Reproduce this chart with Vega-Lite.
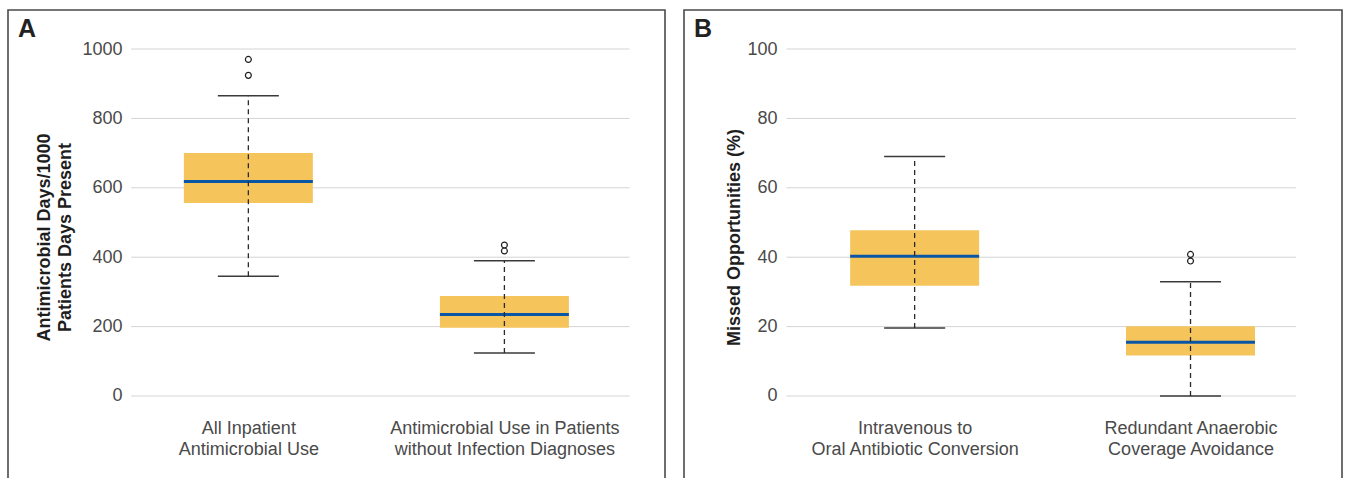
{
  "$schema": "https://vega.github.io/schema/vega-lite/v6.json",
  "padding": {"left": 7, "top": 9, "right": 0, "bottom": 0},
  "autosize": {"type": "pad"},
  "spacing": 17,
  "config": {
    "view": {"stroke": "#4a4a4a", "strokeWidth": 1.6},
    "font": "Liberation Sans",
    "axis": {"grid": false, "domain": false, "ticks": false, "labelFontSize": 18, "labelColor": "#4a4a4a", "labelFont": "Liberation Sans", "labelLimit": 0, "titleFont": "Liberation Sans", "titleFontSize": 18, "titleFontWeight": "bold", "titleColor": "#1e1e1e"},
    "title": {"font": "Liberation Sans", "fontSize": 25, "fontWeight": "bold", "color": "#222222", "anchor": "start", "frame": "group"},
    "tick": {"opacity": 1},
    "bar": {"opacity": 1}
  },
  "datasets": {
    "boxes": [
      {"panel": "A", "idx": 1, "lo": 345, "q1": 556, "med": 618, "q3": 700, "hi": 865},
      {"panel": "A", "idx": 2, "lo": 124, "q1": 197, "med": 235, "q3": 288, "hi": 390},
      {"panel": "B", "idx": 1, "lo": 19.6, "q1": 31.8, "med": 40.3, "q3": 47.8, "hi": 69.0},
      {"panel": "B", "idx": 2, "lo": 0, "q1": 11.7, "med": 15.5, "q3": 20.1, "hi": 32.9}
    ],
    "outliers": [
      {"panel": "A", "idx": 1, "v": 970},
      {"panel": "A", "idx": 1, "v": 924},
      {"panel": "A", "idx": 2, "v": 435},
      {"panel": "A", "idx": 2, "v": 418},
      {"panel": "B", "idx": 2, "v": 40.8},
      {"panel": "B", "idx": 2, "v": 38.9}
    ],
    "grid": [
      {"panel": "A", "v": 0}, {"panel": "A", "v": 200}, {"panel": "A", "v": 400}, {"panel": "A", "v": 600}, {"panel": "A", "v": 800}, {"panel": "A", "v": 1000},
      {"panel": "B", "v": 0}, {"panel": "B", "v": 20}, {"panel": "B", "v": 40}, {"panel": "B", "v": 60}, {"panel": "B", "v": 80}, {"panel": "B", "v": 100}
    ]
  },
  "hconcat": [
    {
      "width": 657,
      "height": 469,
      "title": {"text": "A", "offset": -32, "dx": 10},
      "layer": [
        {
          "data": {"name": "grid"},
          "transform": [{"filter": "datum.panel == 'A'"}],
          "mark": {"type": "rule", "color": "#d4d4d4", "strokeWidth": 1},
          "encoding": {
            "y": {"field": "v", "type": "quantitative",
              "scale": {"domain": [-239.2, 1112.4], "nice": false, "zero": false},
              "axis": {"values": [0, 200, 400, 600, 800, 1000], "format": "d", "offset": -120, "labelPadding": 6, "title": ["Antimicrobial Days/1000", "Patients Days Present"], "titlePadding": 7, "titleLineHeight": 21, "titleY": 227}},
            "x": {"datum": 0.5423, "type": "quantitative",
              "scale": {"domain": [0.0808, 2.6077], "nice": false, "zero": false},
              "axis": {"values": [1, 2], "offset": -83, "labelPadding": 23, "labelLineHeight": 21, "labelFlush": false, "labelOverlap": false, "title": null,
                "labelExpr": "datum.value == 1 ? ['All Inpatient', 'Antimicrobial Use'] : ['Antimicrobial Use in Patients', 'without Infection Diagnoses']"}},
            "x2": {"datum": 2.4885}
          }
        },
        {
          "data": {"name": "boxes"},
          "transform": [{"filter": "datum.panel == 'A'"}],
          "mark": {"type": "bar", "color": "#f5c55c", "width": 129},
          "encoding": {
            "x": {"field": "idx", "type": "quantitative"},
            "y": {"field": "q1", "type": "quantitative"},
            "y2": {"field": "q3"}
          }
        },
        {
          "data": {"name": "boxes"},
          "transform": [{"filter": "datum.panel == 'A'"}],
          "mark": {"type": "tick", "orient": "horizontal", "color": "#0a56a6", "opacity": 1, "size": 129, "thickness": 3},
          "encoding": {
            "x": {"field": "idx", "type": "quantitative"},
            "y": {"field": "med", "type": "quantitative"}
          }
        },
        {
          "data": {"name": "boxes"},
          "transform": [{"filter": "datum.panel == 'A'"}],
          "mark": {"type": "tick", "orient": "horizontal", "color": "#3a3a3a", "opacity": 1, "size": 61, "thickness": 1.5},
          "encoding": {
            "x": {"field": "idx", "type": "quantitative"},
            "y": {"field": "lo", "type": "quantitative"}
          }
        },
        {
          "data": {"name": "boxes"},
          "transform": [{"filter": "datum.panel == 'A'"}],
          "mark": {"type": "tick", "orient": "horizontal", "color": "#3a3a3a", "opacity": 1, "size": 61, "thickness": 1.5},
          "encoding": {
            "x": {"field": "idx", "type": "quantitative"},
            "y": {"field": "hi", "type": "quantitative"}
          }
        },
        {
          "data": {"name": "boxes"},
          "transform": [{"filter": "datum.panel == 'A'"}],
          "mark": {"type": "rule", "color": "#2a2a2a", "strokeWidth": 1.3, "strokeDash": [5, 4]},
          "encoding": {
            "x": {"field": "idx", "type": "quantitative"},
            "y": {"field": "lo", "type": "quantitative"},
            "y2": {"field": "hi"}
          }
        },
        {
          "data": {"name": "outliers"},
          "transform": [{"filter": "datum.panel == 'A'"}],
          "mark": {"type": "point", "shape": "circle", "filled": false, "size": 35, "stroke": "#1e1e1e", "strokeWidth": 1.2, "opacity": 1},
          "encoding": {
            "x": {"field": "idx", "type": "quantitative"},
            "y": {"field": "v", "type": "quantitative"}
          }
        }
      ]
    },
    {
      "width": 658,
      "height": 469,
      "title": {"text": "B", "offset": -32, "dx": 10},
      "layer": [
        {
          "data": {"name": "grid"},
          "transform": [{"filter": "datum.panel == 'B'"}],
          "mark": {"type": "rule", "color": "#d4d4d4", "strokeWidth": 1},
          "encoding": {
            "y": {"field": "v", "type": "quantitative",
              "scale": {"domain": [-23.92, 111.24], "nice": false, "zero": false},
              "axis": {"values": [0, 20, 40, 60, 80, 100], "format": "d", "offset": -99, "labelPadding": 6, "title": "Missed Opportunities (%)", "titlePadding": 3, "titleY": 227}},
            "x": {"datum": 0.5357, "type": "quantitative",
              "scale": {"domain": [0.1821, 2.531], "nice": false, "zero": false},
              "axis": {"values": [1, 2], "offset": -83, "labelPadding": 23, "labelLineHeight": 21, "labelFlush": false, "labelOverlap": false, "title": null,
                "labelExpr": "datum.value == 1 ? ['Intravenous to', 'Oral Antibiotic Conversion'] : ['Redundant Anaerobic', 'Coverage Avoidance']"}},
            "x2": {"datum": 2.382}
          }
        },
        {
          "data": {"name": "boxes"},
          "transform": [{"filter": "datum.panel == 'B'"}],
          "mark": {"type": "bar", "color": "#f5c55c", "width": 129},
          "encoding": {
            "x": {"field": "idx", "type": "quantitative"},
            "y": {"field": "q1", "type": "quantitative"},
            "y2": {"field": "q3"}
          }
        },
        {
          "data": {"name": "boxes"},
          "transform": [{"filter": "datum.panel == 'B'"}],
          "mark": {"type": "tick", "orient": "horizontal", "color": "#0a56a6", "opacity": 1, "size": 129, "thickness": 3},
          "encoding": {
            "x": {"field": "idx", "type": "quantitative"},
            "y": {"field": "med", "type": "quantitative"}
          }
        },
        {
          "data": {"name": "boxes"},
          "transform": [{"filter": "datum.panel == 'B'"}],
          "mark": {"type": "tick", "orient": "horizontal", "color": "#3a3a3a", "opacity": 1, "size": 61, "thickness": 1.5},
          "encoding": {
            "x": {"field": "idx", "type": "quantitative"},
            "y": {"field": "lo", "type": "quantitative"}
          }
        },
        {
          "data": {"name": "boxes"},
          "transform": [{"filter": "datum.panel == 'B'"}],
          "mark": {"type": "tick", "orient": "horizontal", "color": "#3a3a3a", "opacity": 1, "size": 61, "thickness": 1.5},
          "encoding": {
            "x": {"field": "idx", "type": "quantitative"},
            "y": {"field": "hi", "type": "quantitative"}
          }
        },
        {
          "data": {"name": "boxes"},
          "transform": [{"filter": "datum.panel == 'B'"}],
          "mark": {"type": "rule", "color": "#2a2a2a", "strokeWidth": 1.3, "strokeDash": [5, 4]},
          "encoding": {
            "x": {"field": "idx", "type": "quantitative"},
            "y": {"field": "lo", "type": "quantitative"},
            "y2": {"field": "hi"}
          }
        },
        {
          "data": {"name": "outliers"},
          "transform": [{"filter": "datum.panel == 'B'"}],
          "mark": {"type": "point", "shape": "circle", "filled": false, "size": 35, "stroke": "#1e1e1e", "strokeWidth": 1.2, "opacity": 1},
          "encoding": {
            "x": {"field": "idx", "type": "quantitative"},
            "y": {"field": "v", "type": "quantitative"}
          }
        }
      ]
    }
  ]
}
